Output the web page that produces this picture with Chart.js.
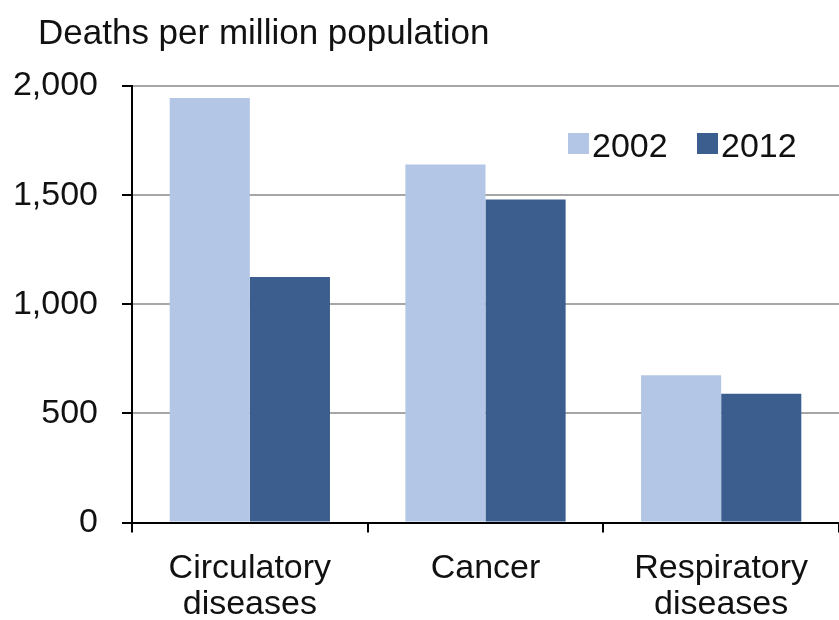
<!DOCTYPE html>
<html>
<head>
<meta charset="utf-8">
<script src="https://cdn.jsdelivr.net/npm/chart.js@4.4.1/dist/chart.umd.min.js"></script>
<style>
  html, body { margin: 0; padding: 0; background: #fff; }
  #wrap { width: 839px; height: 620px; position: relative; }
</style>
</head>
<body>
<div id="wrap"><canvas id="deaths_chart"></canvas></div>
<script>
// data
const categories = [['Circulatory', 'diseases'], 'Cancer', ['Respiratory', 'diseases']];
const seriesLabels = ['2002', '2012'];
const deaths2002 = [1945, 1640, 675];
const deaths2012 = [1125, 1480, 590];
const yTicks = [0, 500, 1000, 1500, 2000];
const chartTitle = 'Deaths per million population';

const FONT = '"Liberation Sans", Arial, sans-serif';
const TEXT = '#111111';
const LIGHT = '#b3c6e6';
const DARK = '#3b5e8f';

// title + legend drawn by hand, they sit outside / inside the plot in odd spots
const decorations = {
    id: 'decorations',
    afterDraw(chart) {
        const ctx = chart.ctx;
        ctx.save();
        ctx.fillStyle = TEXT;
        ctx.textBaseline = 'alphabetic';
        ctx.textAlign = 'left';
        ctx.font = '35px ' + FONT;
        ctx.fillText(chartTitle, 38, 44);

        // legend, top right of the plot
        ctx.font = '34px ' + FONT;
        const boxX = [568, 697];
        chart.data.datasets.forEach((ds, i) => {
            ctx.fillStyle = ds.backgroundColor;
            ctx.fillRect(boxX[i], 133, 21, 21);
            ctx.fillStyle = TEXT;
            ctx.fillText(ds.label, boxX[i] + 24, 157);
        });
        ctx.restore();
    }
};

const ctx = document.getElementById('deaths_chart').getContext('2d');
new Chart(ctx, {
    type: 'bar',
    data: {
        labels: categories,
        datasets: [
            { label: seriesLabels[0], data: deaths2002, backgroundColor: LIGHT },
            { label: seriesLabels[1], data: deaths2012, backgroundColor: DARK }
        ]
    },
    options: {
        responsive: true,
        maintainAspectRatio: false,
        animation: false,
        categoryPercentage: 0.68,
        barPercentage: 1.0,
        layout: { padding: { top: 86, left: 12, right: 0, bottom: -20 } },
        plugins: {
            legend: { display: false },
            title: { display: false },
            tooltip: { enabled: false }
        },
        scales: {
            y: {
                min: 0,
                max: 2000,
                afterBuildTicks: scale => { scale.ticks = yTicks.map(v => ({ value: v })); },
                afterFit: scale => { scale.width = 120; },
                grid: { color: '#a6a6a6', lineWidth: 2, tickColor: '#000', tickLength: 10 },
                border: { display: true, color: '#000', width: 2 },
                ticks: {
                    color: TEXT,
                    font: { family: FONT, size: 34 },
                    padding: 24,
                    callback: v => v.toLocaleString('en-US')
                }
            },
            x: {
                grid: { offset: true, drawOnChartArea: false, color: '#000', tickColor: '#000', lineWidth: 2, tickLength: 10 },
                border: { display: true, color: '#000', width: 2 },
                ticks: {
                    color: TEXT,
                    font: { family: FONT, size: 34, lineHeight: 1.05 },
                    padding: 18,
                    maxRotation: 0
                }
            }
        }
    },
    plugins: [decorations]
});
</script>
</body>
</html>
